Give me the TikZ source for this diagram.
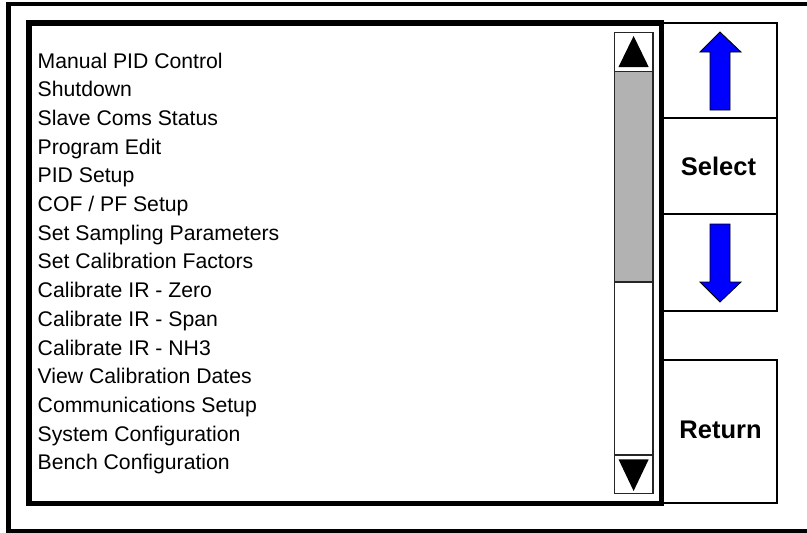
\documentclass[tikz,border=0pt]{standalone}
\usepackage{fontspec}
\setmainfont{Liberation Sans}
\begin{document}
\begin{tikzpicture}[x=1pt,y=-1pt,
  btn/.style={draw, line width=2.2pt, inner sep=0pt},
  itemtext/.style={anchor=base west, inner sep=0pt, font=\fontsize{21.2}{24}\selectfont},
  btntext/.style={anchor=base, inner sep=0pt, font=\fontsize{25.5}{28}\selectfont\bfseries},
  bluearrow/.style={fill=blue, draw=black, line width=0.8pt, line join=miter},
  scrollbox/.style={draw=black!85, line width=1.2pt}]
\useasboundingbox (0,0) rectangle (807,533);
% outer frame (right edge lies beyond the picture)
\begin{scope}
\clip (0,0) rectangle (807,533);
\draw[line width=4.5pt] (8.5,4) rectangle (820,531);
\end{scope}
% right-hand buttons
\node[btn, minimum width=115pt, minimum height=95pt] (upbtn) at (719.5,70.5) {};
\node[btn, minimum width=115pt, minimum height=96pt] (selbtn) at (719.5,166) {};
\node[btn, minimum width=115pt, minimum height=97pt] (dnbtn) at (719.5,262.5) {};
\node[btn, minimum width=115pt, minimum height=143pt] (retbtn) at (719.5,431.5) {};
\node[btntext] (seltxt) at (718.5,175) {Select};
\node[btntext] (rettxt) at (720.5,438) {Return};
% blue arrows
\draw[bluearrow] (720,32) -- (741,52) -- (730,52) -- (730,110) -- (710,110) -- (710,52) -- (700,52) -- cycle;
\draw[bluearrow] (710,224) -- (730,224) -- (730,282) -- (741,282) -- (720,302) -- (700,282) -- (710,282) -- cycle;
% list box
\node[draw, line width=5.5pt, minimum width=632.5pt, minimum height=480.5pt, inner sep=0pt] (listbox) at (345.25,263.25) {};
% scrollbar
\fill[black!30] (614.5,71.5) rectangle (653,282);
\draw[scrollbox] (614.5,32.8) rectangle (653,493.5);
\draw[scrollbox] (614.5,71.5) -- (653,71.5);
\draw[scrollbox] (614.5,282) -- (653,282);
\draw[scrollbox] (614.5,455) -- (653,455);
\fill (633.6,36) -- (648.7,67) -- (618.5,67) -- cycle;
\fill (618.5,459.3) -- (648.7,459.3) -- (633.6,491) -- cycle;
% menu entries
\foreach \t [count=\i from 0] in {Manual PID Control, Shutdown, Slave Coms Status, Program Edit, PID Setup, COF / PF Setup, Set Sampling Parameters, Set Calibration Factors, Calibrate IR - Zero, Calibrate IR - Span, Calibrate IR - NH3, View Calibration Dates, Communications Setup, System Configuration, Bench Configuration}
  \node[itemtext] (item\i) at (37.5,{68+28.7*\i}) {\t};
\end{tikzpicture}
\end{document}
